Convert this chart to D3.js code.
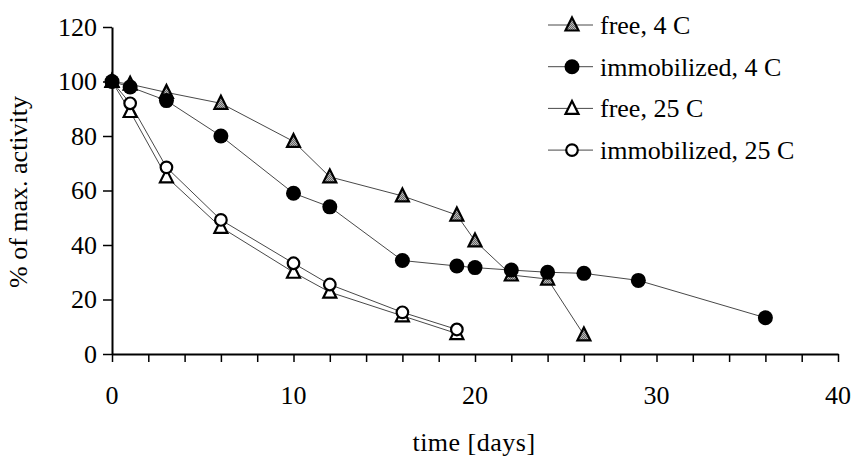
<!DOCTYPE html>
<html>
<head>
<meta charset="utf-8">
<script src="https://cdn.jsdelivr.net/npm/d3@7"></script>
<style>
	body { margin: 0; background: #fff; }
	text { font-family: "Liberation Serif", "Times New Roman", serif; fill: #000; }
</style>
</head>
<body>
<div id="container"></div>
<script>
const days4 = [0, 1, 3, 6, 10, 12, 16, 19, 20, 22, 24, 26];
const free4 = [100, 99, 96, 92, 78, 65, 58, 51, 41.5, 29, 27.5, 7];

const daysImm4 = [0, 1, 3, 6, 10, 12, 16, 19, 20, 22, 24, 26, 29, 36];
const imm4 = [100, 98, 93, 80, 59, 54, 34.3, 32.3, 31.7, 30.8, 30, 29.6, 27, 13.3];

const days25 = [0, 1, 3, 6, 10, 12, 16, 19];
const free25 = [100, 89, 65, 46.5, 30, 22.7, 14, 7.5];
const imm25 = [100, 92, 68.5, 49.2, 33.3, 25.5, 15.3, 9];

const seriesNames = ["free, 4 C", "immobilized, 4 C", "free, 25 C", "immobilized, 25 C"];
const xTicks = [0, 10, 20, 30, 40];
const yTicks = [0, 20, 40, 60, 80, 100, 120];

function drawChart() {
	const width = 852, height = 459;
	const margin = { top: 27, right: 14, bottom: 105, left: 112 };
	const fontSize = "26px";

	const svg = d3.select("#container").append("svg")
		.attr("width", width)
		.attr("height", height);

	const x = d3.scaleLinear().domain([0, 40]).range([margin.left, width - margin.right]);
	const y = d3.scaleLinear().domain([0, 120]).range([height - margin.bottom, margin.top]);

	const series = [
		{ name: seriesNames[0], xs: days4, ys: free4, marker: "triGray" },
		{ name: seriesNames[1], xs: daysImm4, ys: imm4, marker: "dot" },
		{ name: seriesNames[2], xs: days25, ys: free25, marker: "triOpen" },
		{ name: seriesNames[3], xs: days25, ys: imm25, marker: "circOpen" }
	];

	// gray hatch for the filled triangles
	const defs = svg.append("defs");
	const pat = defs.append("pattern").attr("id", "hatch")
		.attr("width", 2).attr("height", 2).attr("patternUnits", "userSpaceOnUse");
	pat.append("rect").attr("width", 2).attr("height", 2).attr("fill", "#bbb");
	pat.append("rect").attr("width", 1).attr("height", 1).attr("fill", "#666");
	pat.append("rect").attr("x", 1).attr("y", 1).attr("width", 1).attr("height", 1).attr("fill", "#666");

	// axes
	const xAxis = d3.axisBottom(x).tickValues(d3.range(0, 41, 2)).tickSize(8)
		.tickFormat(() => "").tickSizeOuter(0);
	const gx = svg.append("g").attr("transform", `translate(0,${y(0)})`).call(xAxis);
	gx.selectAll(".tick line").attr("stroke", "#000").attr("stroke-width", 1.5);
	gx.select(".domain").attr("stroke", "#000").attr("stroke-width", 2);

	svg.append("g").selectAll("text").data(xTicks).enter().append("text")
		.attr("x", (d) => x(d))
		.attr("y", y(0) + 50)
		.attr("text-anchor", "middle")
		.style("font-size", fontSize)
		.text((d) => d);

	const yAxis = d3.axisLeft(y).tickValues(yTicks).tickSize(9).tickSizeOuter(0)
		.tickPadding(6);
	const gy = svg.append("g").attr("transform", `translate(${margin.left},0)`).call(yAxis);
	gy.selectAll(".tick line").attr("stroke", "#000").attr("stroke-width", 1.5);
	gy.select(".domain").attr("stroke", "#000").attr("stroke-width", 2);
	gy.selectAll(".tick text")
		.style("font-family", "Liberation Serif, serif")
		.style("font-size", fontSize)
		.attr("fill", "#000");

	svg.append("text")
		.attr("x", 474)
		.attr("y", 451)
		.attr("text-anchor", "middle")
		.style("font-size", fontSize)
		.style("letter-spacing", "0.5px")
		.text("time [days]");

	svg.append("text")
		.attr("transform", `translate(27, 192) rotate(-90)`)
		.attr("text-anchor", "middle")
		.style("font-size", fontSize)
		.text("% of max. activity");

	const line = d3.line().x((d) => x(d[0])).y((d) => y(d[1]));

	function drawMarker(g, type, cx, cy) {
		if (type === "dot") {
			g.append("circle").attr("cx", cx).attr("cy", cy).attr("r", 7.5).attr("fill", "#000");
		} else if (type === "circOpen") {
			g.append("circle").attr("cx", cx).attr("cy", cy).attr("r", 5.8)
				.attr("fill", "#fff").attr("stroke", "#000").attr("stroke-width", 2.2);
		} else {
			const s = 6.5;
			g.append("path")
				.attr("d", `M${cx},${cy - s - 1}L${cx + s},${cy + s - 1}L${cx - s},${cy + s - 1}Z`)
				.attr("fill", type === "triGray" ? "url(#hatch)" : "#fff")
				.attr("stroke", "#000").attr("stroke-width", 2.2)
				.attr("stroke-linejoin", "miter");
		}
	}

	// lines first, then markers (order so that later series sit on top)
	const drawOrder = [0, 2, 3, 1];
	drawOrder.forEach((i) => {
		const s = series[i];
		const pts = s.xs.map((d, j) => [d, s.ys[j]]);
		svg.append("path").attr("d", line(pts)).attr("fill", "none")
			.attr("stroke", "#333").attr("stroke-width", 0.9);
	});
	drawOrder.forEach((i) => {
		const s = series[i];
		const g = svg.append("g");
		s.xs.forEach((d, j) => drawMarker(g, s.marker, x(d), y(s.ys[j])));
	});

	// legend
	const legend = svg.append("g");
	series.forEach((s, i) => {
		const ly = 25 + i * 41.7;
		legend.append("line").attr("x1", 548).attr("x2", 593).attr("y1", ly).attr("y2", ly)
			.attr("stroke", "#333").attr("stroke-width", 0.9);
		drawMarker(legend, s.marker, 572, ly);
		legend.append("text").attr("x", 600).attr("y", ly + 9)
			.style("font-size", fontSize).text(s.name);
	});
}

drawChart();
</script>
</body>
</html>
